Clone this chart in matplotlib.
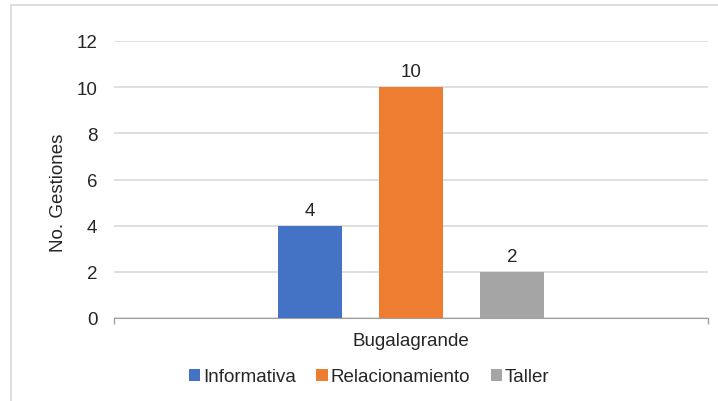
import matplotlib.pyplot as plt
from matplotlib.patches import Rectangle
import numpy as np

plt.rcParams['font.family'] = ['Liberation Sans', 'DejaVu Sans']

# datos
municipio = "Bugalagrande"
tipos = ["Informativa", "Relacionamiento", "Taller"]
gestiones = [4, 10, 2]
colores = ["#4472c4", "#ed7d31", "#a5a5a5"]

fs = 13.5
fig = plt.figure(figsize=(7.18, 4.02), dpi=100)
ax = fig.add_axes([114 / 718, 1 - 319 / 402, 594 / 718, 277 / 402])

# marco del grafico
fig.patches.append(Rectangle((10.5 / 718, -0.1), 1.0, 1 - 6 / 402 + 0.1,
                             transform=fig.transFigure, fill=False,
                             edgecolor="#d9d9d9", linewidth=1.2))

ancho = 0.109
paso = 0.170
pos = (np.arange(len(tipos)) - 1) * paso
barras = ax.bar(pos, gestiones, width=ancho, color=colores, label=tipos, zorder=3)
for b, v in zip(barras, gestiones):
    ax.annotate(str(v), (b.get_x() + b.get_width() / 2, v), xytext=(0, 5),
                textcoords="offset points", ha="center", va="bottom",
                fontsize=fs, color="#262626")

ax.set_xlim(-0.5, 0.5)
ax.set_ylim(0, 12)
ax.set_yticks(range(0, 13, 2))
ax.yaxis.grid(True, color="#d9d9d9", linewidth=1.2, zorder=0)
ax.tick_params(axis="y", length=0, labelsize=fs, labelcolor="#262626", pad=12)
ax.set_xticks([-0.5, 0.5])
ax.set_xticklabels([])
ax.tick_params(axis="x", length=4, color="#a0a0a0", width=1, direction="out")
ax.text(0.5, -0.052, municipio, transform=ax.transAxes, ha="center", va="top",
        fontsize=fs, color="#262626")
for s in ["top", "right", "left"]:
    ax.spines[s].set_visible(False)
ax.spines["bottom"].set_color("#a0a0a0")
ax.set_ylabel("No. Gestiones", fontsize=fs, color="#262626")
ax.yaxis.set_label_coords(-0.079, 0.455)

fig.legend(handles=barras, labels=tipos, loc="center", bbox_to_anchor=(369 / 718, 1 - 378 / 402),
           ncol=3, frameon=False, fontsize=fs, handlelength=0.6, handleheight=0.6,
           handletextpad=0.15, columnspacing=1.1, labelcolor="#262626")

fig.savefig("out.png", dpi=100)
